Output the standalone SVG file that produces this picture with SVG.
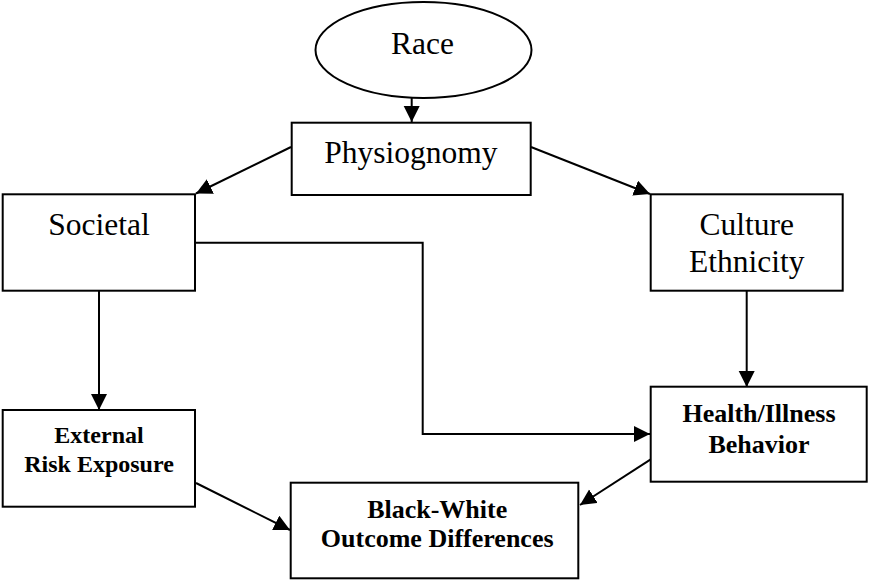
<svg xmlns="http://www.w3.org/2000/svg" width="869" height="582" viewBox="0 0 869 582">
<style>
.box{fill:#fff;stroke:#000;stroke-width:2}
.t{font-family:"Liberation Serif","Times New Roman",serif;font-size:31.5px;fill:#000;text-anchor:middle}
.b{font-family:"Liberation Serif","Times New Roman",serif;font-size:26px;font-weight:bold;fill:#000;text-anchor:middle}
.conn{fill:none;stroke:#000;stroke-width:2;marker-end:url(#ah)}
</style>
<defs>
<marker id="ah" markerUnits="userSpaceOnUse" markerWidth="17" markerHeight="17" refX="16" refY="8" orient="auto">
<path d="M0,0 L16,8 L0,16 Z" fill="#000"/>
</marker>
</defs>
<rect width="869" height="582" fill="#fff"/>
<g id="connectors">
<path class="conn" d="M411.7,98 L411.7,122"/>
<path class="conn" d="M291,147 L196,193.5"/>
<path class="conn" d="M531,147 L650,194"/>
<path class="conn" d="M195,242.7 L422.7,242.7 L422.7,434 L650,434"/>
<path class="conn" d="M99,291 L99,410"/>
<path class="conn" d="M746.7,291 L746.7,387"/>
<path class="conn" d="M196,483 L290,530"/>
<path class="conn" d="M650.7,459.3 L580,505"/>
</g>
<g id="race">
<ellipse class="box" cx="423.5" cy="50" rx="108" ry="48"/>
<text class="t" x="422.5" y="54">Race</text>
</g>
<g id="physiognomy">
<rect class="box" x="291.7" y="122.7" width="239" height="72.3"/>
<text class="t" x="410.8" y="163">Physiognomy</text>
</g>
<g id="societal">
<rect class="box" x="2.7" y="194.3" width="192.3" height="96.4"/>
<text class="t" x="99" y="235">Societal</text>
</g>
<g id="culture">
<rect class="box" x="650.7" y="194.3" width="192" height="96.4"/>
<text class="t" x="746.7" y="235">Culture</text>
<text class="t" x="746.7" y="271.7">Ethnicity</text>
</g>
<g id="external">
<rect class="box" x="2.7" y="410" width="192.3" height="96.7"/>
<text class="b" x="99" y="443.3" style="font-size:24px">External</text>
<text class="b" x="99" y="471.7" style="font-size:24px">Risk Exposure</text>
</g>
<g id="health">
<rect class="box" x="650.7" y="386.7" width="216" height="95"/>
<text class="b" x="759" y="421.7">Health/Illness</text>
<text class="b" x="759" y="452.7">Behavior</text>
</g>
<g id="outcome">
<rect class="box" x="290.7" y="482.7" width="287.6" height="95.6"/>
<text class="b" x="437.2" y="518.3">Black-White</text>
<text class="b" x="437.2" y="547.3">Outcome Differences</text>
</g>
</svg>
